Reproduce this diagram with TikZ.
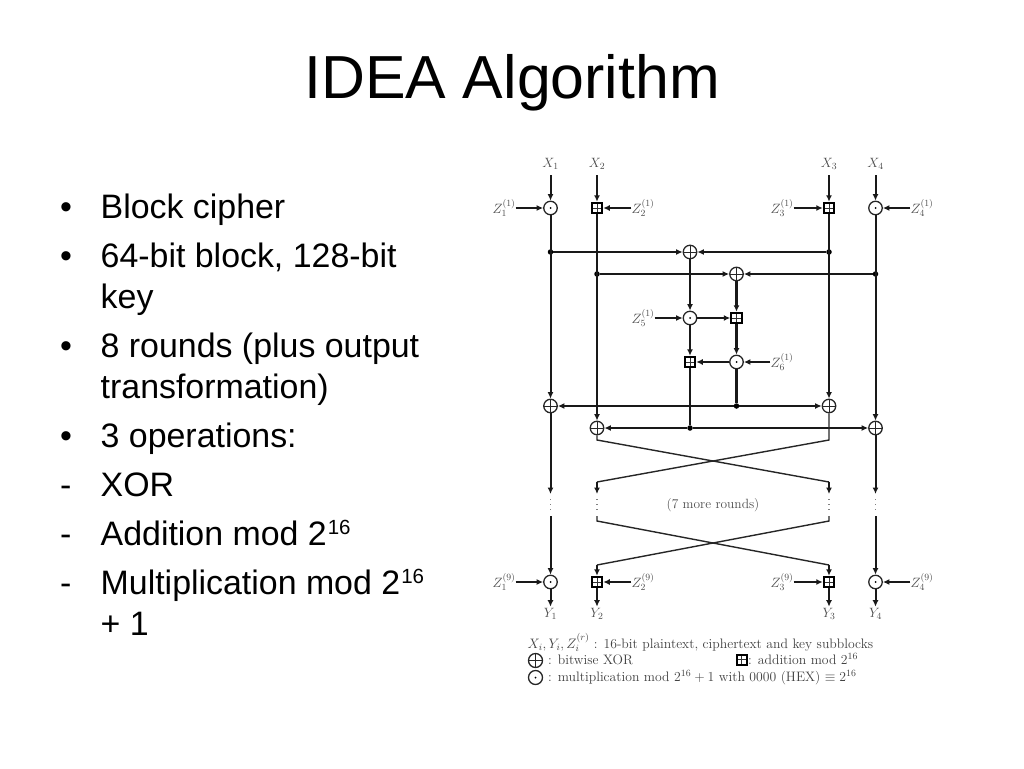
\RequirePackage{fix-cm}
\documentclass[tikz,border=0pt]{standalone}
\usepackage{fontspec}
\newfontfamily\slidefont{Liberation Sans}
\usetikzlibrary{arrows.meta,calc}
\newcommand{\fsz}[1]{\fontsize{#1}{#1}\selectfont}
\newcommand{\sixteen}{\kern1pt\raisebox{10.5pt}{\fsz{20.5}16}}
\tikzset{
  x=1pt,y=-1pt,
  wire/.style={line width=2pt,draw=black!90},
  thin wire/.style={line width=1.4pt,draw=black!85},
  arr/.style={wire,-{Latex[length=6.5pt,width=6pt]}},
  heavy/.style={line width=2.5pt},
  lab/.style={inner sep=0pt,text=black!70,font=\fsz{13.5}},
  title text/.style={inner sep=0pt,anchor=base,font=\slidefont\fsz{60.8}},
  body/.style={inner sep=0pt,anchor=base west,font=\slidefont\fsz{33.9}},
  legend/.style={inner sep=0pt,anchor=base west,text=black!75,font=\fsz{13.7}},
  xorop/.style={circle,draw=black!85,line width=1.3pt,minimum size=13.5pt,inner sep=0pt,fill=white,
    path picture={\draw[line width=1pt,black!85] (path picture bounding box.north)--(path picture bounding box.south)
      (path picture bounding box.west)--(path picture bounding box.east);}},
  mulop/.style={circle,draw=black!85,line width=1.3pt,minimum size=13.5pt,inner sep=0pt,fill=white,
    path picture={\fill[black] (path picture bounding box.center) circle (1pt);}},
  addop/.style={rectangle,draw=black,line width=2pt,minimum size=10.5pt,inner sep=0pt,fill=white,
    path picture={\draw[line width=.8pt,black!80] (path picture bounding box.north)--(path picture bounding box.south)
      (path picture bounding box.west)--(path picture bounding box.east);}},
  jun/.style={circle,fill=black,inner sep=0pt,minimum size=5.5pt},
  dotted wire/.style={line width=1.1pt,draw=black!50,dash pattern=on 1pt off 4pt},
}
\begin{document}
\begin{tikzpicture}
\useasboundingbox (0,0) rectangle (1024,768);
% title and bullets
\node[title text] (title) at (512,98) {IDEA Algorithm};
\foreach \n/\yy/\bb/\tx in {
 a/218/{•}/{Block cipher},
 b/267/{•}/{64-bit block, 128-bit},
 c/308//{key},
 d/357/{•}/{8 rounds (plus output},
 e/398//{transformation)},
 f/447/{•}/{3 operations:},
 g/496/{-}/{XOR},
 h/545/{-}/{Addition mod 2\sixteen},
 i/594/{-}/{Multiplication mod 2\sixteen},
 j/635//{+ 1}}{
  \node[body] (t\n) at (100.5,\yy) {\tx};
  \node[body] (m\n) at (60,\yy) {\bb};
}
% top labels
\node[lab] (X1) at (550.5,164) {$X_1$};
\node[lab] (X2) at (597,164) {$X_2$};
\node[lab] (X3) at (829,164) {$X_3$};
\node[lab] (X4) at (875.5,164) {$X_4$};
\node[lab] (Y1) at (550.5,614) {$Y_1$};
\node[lab] (Y2) at (597,614) {$Y_2$};
\node[lab] (Y3) at (829,614) {$Y_3$};
\node[lab] (Y4) at (875.5,614) {$Y_4$};
% first row
\node[mulop] (m1) at (550.5,208) {};
\node[addop] (a2) at (597,208) {};
\node[addop] (a3) at (829,208) {};
\node[mulop] (m4) at (875.5,208) {};
\node[lab] (Z1) at (504,208) {$Z_1^{(1)}$};
\node[lab] (Z2) at (643,208) {$Z_2^{(1)}$};
\node[lab] (Z3) at (782,208) {$Z_3^{(1)}$};
\node[lab] (Z4) at (922,208) {$Z_4^{(1)}$};
% junctions
\node[jun] (j1) at (550.5,252) {};
\node[jun] (j3) at (829,252) {};
\node[jun] (j2) at (597,274) {};
\node[jun] (j4) at (875.5,274) {};
\node[jun] (j5) at (736.5,406) {};
\node[jun] (j6) at (690,428) {};
% MA box
\node[xorop] (x1) at (690,252) {};
\node[xorop] (x2) at (736.5,274) {};
\node[mulop] (m5) at (690,318) {};
\node[addop] (a6) at (736.5,318) {};
\node[addop] (a7) at (690,362) {};
\node[mulop] (m6) at (736.5,362) {};
\node[lab] (Z5) at (643,318) {$Z_5^{(1)}$};
\node[lab] (Z6) at (782,362) {$Z_6^{(1)}$};
% lower xors
\node[xorop] (x3) at (550.5,406) {};
\node[xorop] (x4) at (829,406) {};
\node[xorop] (x5) at (597,428) {};
\node[xorop] (x6) at (875.5,428) {};
% last row
\node[mulop] (m7) at (550.5,582) {};
\node[addop] (a8) at (597,582) {};
\node[addop] (a9) at (829,582) {};
\node[mulop] (m10) at (875.5,582) {};
\node[lab] (Z7) at (504,582) {$Z_1^{(9)}$};
\node[lab] (Z8) at (643,582) {$Z_2^{(9)}$};
\node[lab] (Z9) at (782,582) {$Z_3^{(9)}$};
\node[lab] (Z10) at (922,582) {$Z_4^{(9)}$};
% caption
\node[lab,font=\fsz{13.4}] (more) at (713,505.5) {(7 more rounds)};
% free ends
\coordinate (s1) at (550.5,175);
\coordinate (s2) at (597,175);
\coordinate (s3) at (829,175);
\coordinate (s4) at (875.5,175);
\coordinate (e1) at (550.5,494);
\coordinate (e4) at (875.5,494);
\coordinate (b1) at (550.5,516);
\coordinate (b4) at (875.5,516);
\coordinate (u2) at (597,440);
\coordinate (u3) at (829,440);
\coordinate (v2) at (597,482);
\coordinate (v3) at (829,482);
\coordinate (w2t) at (597,494);
\coordinate (w3t) at (829,494);
\coordinate (p2) at (597,516);
\coordinate (p3) at (829,516);
\coordinate (q2) at (597,521);
\coordinate (q3) at (829,521);
\coordinate (r2) at (597,565);
\coordinate (r3) at (829,565);
% dotted gaps
\foreach \a/\b in {e1/b1,w2t/p2,w3t/p3,e4/b4}
  \draw[dotted wire,shorten >=3pt,shorten <=5pt] (\a) -- (\b);
% input arrows
\foreach \a/\b in {s1/m1,s2/a2,s3/a3,s4/m4,Z1/m1,Z2/a2,Z3/a3,Z4/m4}
  \draw[arr] (\a) -- (\b);
% long vertical wires
\draw[arr] (m1) -- (x3);
\draw[arr] (a2) -- (x5);
\draw[arr] (a3) -- (x4);
\draw[arr] (m4) -- (x6);
% MA structure
\draw[arr,heavy] (j1) -- (x1);
\draw[arr,heavy] (j3) -- (x1);
\draw[arr] (j2) -- (x2);
\draw[arr] (j4) -- (x2);
\draw[arr] (x1) -- (m5);
\draw[arr,heavy] (x2) -- (a6);
\draw[arr] (Z5) -- (m5);
\draw[arr] (m5) -- (a6);
\draw[arr] (m5) -- (a7);
\draw[arr,heavy] (a6) -- (m6);
\draw[arr] (Z6) -- (m6);
\draw[arr] (m6) -- (a7);
\draw[wire,heavy] (m6) -- (j5);
\draw[wire] (a7) -- (j6);
\draw[arr,heavy] (j5) -- (x3);
\draw[arr,heavy] (j5) -- (x4);
\draw[arr] (j6) -- (x5);
\draw[arr] (j6) -- (x6);
% rounds
\draw[arr] (x3) -- (e1);
\draw[arr] (x6) -- (e4);
\draw[arr] (b1) -- (m7);
\draw[arr] (b4) -- (m10);
\draw[thin wire] (x5) -- (u2) -- (v3);
\draw[thin wire] (x4) -- (u3) -- (v2);
\draw[arr] (v3) -- (w3t);
\draw[arr] (v2) -- (w2t);
\draw[thin wire] (p2) -- (q2) -- (r3);
\draw[thin wire] (p3) -- (q3) -- (r2);
\draw[arr] (r3) -- (a9);
\draw[arr] (r2) -- (a8);
% last row inputs and outputs
\foreach \a/\b in {Z7/m7,Z8/a8,Z9/a9,Z10/m10}
  \draw[arr] (\a) -- (\b);
\foreach \a/\b in {m7/Y1,a8/Y2,a9/Y3,m10/Y4}
  \draw[arr,shorten >=1.5pt] (\a) -- (\b);
% legend
\node[legend] (l1) at (527.5,648) {$X_i,Y_i,Z_i^{(r)}$ : 16-bit plaintext, ciphertext and key subblocks};
\node[xorop,minimum size=14pt] (lx) at (535.5,660.5) {};
\node[legend] (l2) at (548,664.5) {: bitwise XOR};
\node[addop,minimum size=10pt] (la) at (741.5,659.5) {};
\node[legend] (l3) at (748,664.5) {: addition mod $2^{16}$};
\node[mulop,minimum size=14pt] (lm) at (535.5,677.5) {};
\node[legend] (l4) at (548,681) {: multiplication mod $2^{16}+1$ with 0000 (HEX) $\equiv 2^{16}$};
\end{tikzpicture}
\end{document}
